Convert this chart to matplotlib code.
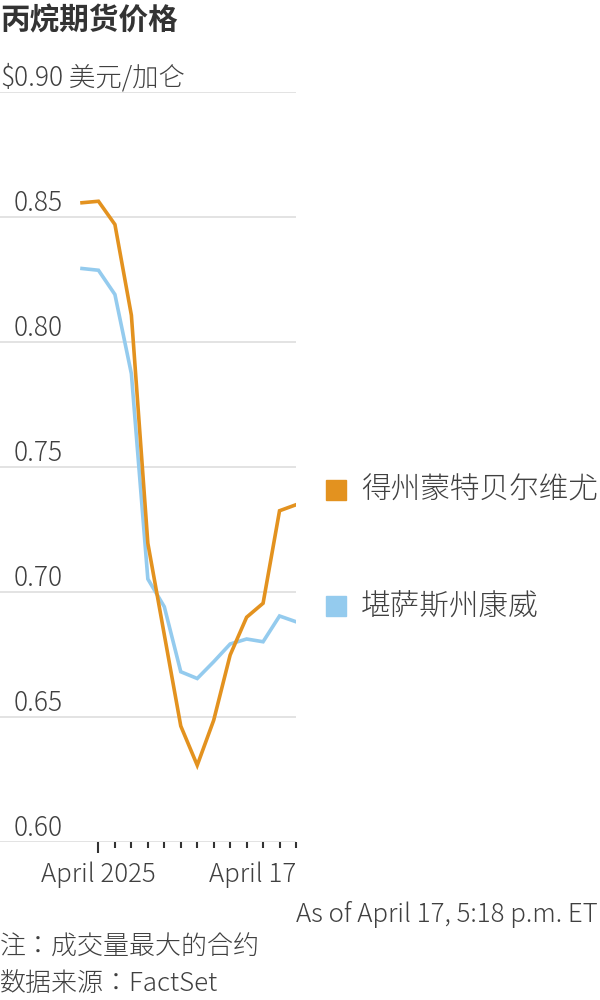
import matplotlib
matplotlib.use("Agg")
import matplotlib.pyplot as plt
import matplotlib.transforms as mtransforms

plt.rcParams['font.family'] = ['Noto Sans CJK SC', 'DejaVu Sans']
LIGHT_FAM = ['Noto Sans CJK JP', 'Noto Sans CJK SC', 'DejaVu Sans']
LIGHT = 300

# ---- data ----
dates = ["2025-03-31", "2025-04-01", "2025-04-02", "2025-04-03", "2025-04-04",
         "2025-04-07", "2025-04-08", "2025-04-09", "2025-04-10", "2025-04-11",
         "2025-04-14", "2025-04-15", "2025-04-16", "2025-04-17"]
mont_belvieu = [0.8557, 0.8563, 0.8470, 0.8107, 0.7195, 0.6829, 0.6464,
                0.6307, 0.6487, 0.6748, 0.6899, 0.6955, 0.7325, 0.7349]
conway = [0.8294, 0.8287, 0.8190, 0.7873, 0.7052, 0.6941, 0.6681,
          0.6654, 0.6721, 0.6792, 0.6812, 0.6801, 0.6904, 0.6881]
series_names = ["得州蒙特贝尔维尤", "堪萨斯州康威"]
series_colors = ["#e3921f", "#94cbee"]
y_ticks = [0.60, 0.65, 0.70, 0.75, 0.80, 0.85, 0.90]
y_tick_labels = ["0.60", "0.65", "0.70", "0.75", "0.80", "0.85", "0.90 美元/加仑"]
x_tick_labels = {"2025-04-01": "April 2025", "2025-04-17": "April 17"}

title = "丙烷期货价格"
timestamp = "As of April 17, 5:18 p.m. ET"
note = "注：成交量最大的合约"
source = "数据来源：FactSet"

TXT = "#404040"
GRID = "#dedede"

fig = plt.figure(figsize=(6, 10), dpi=100)
ax = fig.add_axes([0.0, 0.158, 296 / 600, 0.750])

x = list(range(len(dates)))
step_px = (296 - 82) / (len(dates) - 1)
ax.set_xlim(-82 / step_px, len(dates) - 1)
ax.set_ylim(y_ticks[0], y_ticks[-1])

# gridlines
for yv in y_ticks:
    ax.axhline(yv, color=GRID, lw=1.2, zorder=0)

# lines (draw blue first, orange on top)
ax.plot(x, conway, color=series_colors[1], lw=2.6, solid_joinstyle='miter', zorder=2)
ax.plot(x, mont_belvieu, color=series_colors[0], lw=2.6, solid_joinstyle='miter', zorder=3)

for s in ax.spines.values():
    s.set_visible(False)

# y labels above gridlines
trans = mtransforms.blended_transform_factory(fig.transFigure, ax.transData)
off = mtransforms.offset_copy(trans, fig=fig, x=0, y=6, units='dots')
for yv, lab in zip(y_ticks, y_tick_labels):
    ax.text(14 / 600, yv, lab, transform=off, ha='left', va='baseline',
            fontsize=19, color=TXT, clip_on=False, family=LIGHT_FAM, fontweight=LIGHT)
ax.text(14 / 600, y_ticks[-1], "$", transform=off, ha='right', va='baseline',
        fontsize=19, color=TXT, clip_on=False, family=LIGHT_FAM, fontweight=LIGHT)
ax.set_yticks([])

# x ticks: one per trading day after first
tick_pos = x[1:]
ax.set_xticks(tick_pos)
ax.set_xticklabels([x_tick_labels.get(dates[i], "") for i in tick_pos])
ax.tick_params(axis='x', length=4, width=1.5, color='#333333', direction='out',
               pad=10, labelsize=18.6, labelcolor=TXT)
for lab in ax.get_xticklabels():
    lab.set_family(LIGHT_FAM)
    lab.set_fontweight(LIGHT)
for i, t in zip(tick_pos, ax.xaxis.get_major_ticks()):
    if dates[i] == "2025-04-01":
        t.tick1line.set_markersize(8)
for lab in ax.get_xticklabels():
    if lab.get_text() == "April 17":
        lab.set_ha('right')
        lab.set_x(len(dates) - 1)

# legend
leg_y = [490, 606]
for name, col, yp in zip(series_names, series_colors, leg_y):
    fig.patches.append(plt.Rectangle((326 / 600, 1 - (yp + 10) / 1000), 20 / 600, 20 / 1000,
                                     transform=fig.transFigure, color=col, figure=fig))
    fig.text(361 / 600, 1 - yp / 1000, name, ha='left', va='center', fontsize=21.3,
             color=TXT, family=LIGHT_FAM, fontweight=LIGHT)

# title & footer
fig.text(0.0, 1 - 20 / 1000, title, ha='left', va='center', fontsize=21.3,
         fontweight='bold', color='#333333')
fig.text(598 / 600, 1 - 914 / 1000, timestamp, ha='right', va='center', fontsize=18.6,
         color=TXT, family=LIGHT_FAM, fontweight=LIGHT)
fig.text(0.0, 1 - 947 / 1000, note, ha='left', va='center', fontsize=18.7, color=TXT,
         family=LIGHT_FAM, fontweight=LIGHT)
fig.text(0.0, 1 - 984 / 1000, source, ha='left', va='center', fontsize=18.7, color=TXT,
         family=LIGHT_FAM, fontweight=LIGHT)

fig.savefig("out.png", dpi=100)
